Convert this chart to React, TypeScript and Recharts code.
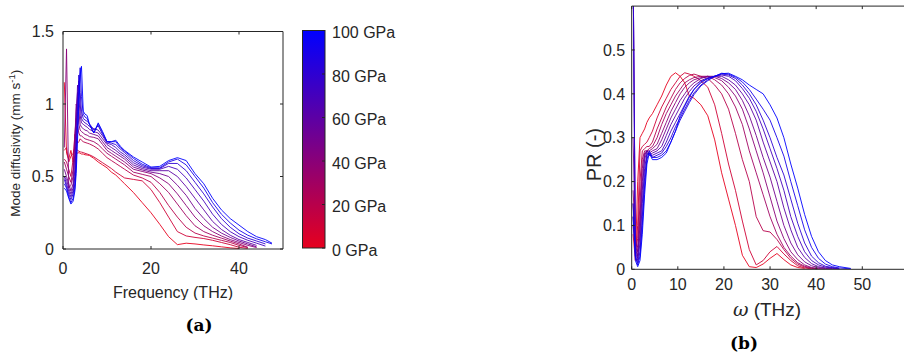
import React from 'react';
import { LineChart, Line, XAxis, YAxis } from 'recharts';

const PRESSURES = [0, 10, 20, 30, 40, 50, 60, 70, 80, 90, 100];
const COLORBAR_TICKS = [0, 20, 40, 60, 80, 100];

// (a) mode diffusivity in mm/s against frequency in THz
const FREQ_A = [
  0.3, 0.8, 1.3, 1.8, 2.3, 2.7, 3.0, 3.3, 3.6, 3.9, 4.2, 4.6, 5.0, 5.5, 6,
  7, 8, 9, 10, 11, 12, 13, 14,
  16, 18, 20, 22, 24, 26, 28, 30, 32, 34, 36, 38, 40, 42, 44, 46, 47.5,
];
const DIFF_00 = [
  1.15, 0.66, 0.62, 0.68, 0.6, 0.64, 0.67, 0.66, 0.665, 0.66, 0.655, 0.655, 0.65, 0.648, 0.645,
  0.625, 0.6, 0.58, 0.56, 0.53, 0.51, 0.48, 0.45,
  0.39, 0.32, 0.25, 0.17, 0.085, 0.03, 0.04, 0.035, 0.028, 0.022, 0.015, 0.008, 0.003, null, null, null, null,
];
const DIFF_10 = [
  0.68, 0.7, 0.6, 0.64, 0.66, 0.7, 0.69, 0.68, 0.675, 0.67, 0.668, 0.665, 0.66, 0.655, 0.65,
  0.635, 0.615, 0.595, 0.575, 0.555, 0.53, 0.51, 0.49,
  0.48, 0.47, 0.41, 0.32, 0.22, 0.12, 0.09, 0.08, 0.072, 0.06, 0.045, 0.03, 0.012, 0.004, null, null, null,
];
const DIFF_20 = [
  0.62, 0.6, 0.55, 0.5, 0.62, 0.79, 0.76, 0.73, 0.74, 0.76, 0.75, 0.74, 0.735, 0.73, 0.725,
  0.71, 0.69, 0.66, 0.63, 0.61, 0.59, 0.57, 0.55,
  0.51, 0.49, 0.46, 0.39, 0.3, 0.22, 0.15, 0.11, 0.09, 0.075, 0.06, 0.045, 0.025, 0.01, null, null, null,
];
const DIFF_30 = [
  0.6, 0.55, 0.5, 0.46, 0.55, 0.8, 0.9, 0.85, 0.8, 0.78, 0.78, 0.77, 0.76, 0.755, 0.75,
  0.74, 0.72, 0.69, 0.66, 0.64, 0.62, 0.6, 0.58,
  0.53, 0.515, 0.5, 0.45, 0.39, 0.31, 0.23, 0.16, 0.12, 0.095, 0.075, 0.055, 0.035, 0.012, null, null, null,
];
const DIFF_40 = [
  0.7, 1.38, 0.42, 0.44, 0.5, 0.75, 1.0, 0.95, 0.86, 0.82, 0.81, 0.8, 0.79, 0.785, 0.775,
  0.77, 0.76, 0.72, 0.68, 0.66, 0.64, 0.62, 0.6,
  0.55, 0.535, 0.52, 0.49, 0.45, 0.38, 0.3, 0.22, 0.16, 0.12, 0.09, 0.065, 0.045, 0.025, 0.01, null, null,
];
const DIFF_50 = [
  0.55, 0.5, 0.45, 0.4, 0.45, 0.65, 0.95, 1.08, 0.95, 0.86, 0.84, 0.83, 0.82, 0.815, 0.8,
  0.79, 0.78, 0.74, 0.7, 0.68, 0.66, 0.64, 0.62,
  0.565, 0.545, 0.53, 0.52, 0.5, 0.44, 0.37, 0.28, 0.21, 0.15, 0.11, 0.08, 0.055, 0.035, 0.015, null, null,
];
const DIFF_60 = [
  0.5, 0.48, 0.42, 0.38, 0.42, 0.55, 0.85, 1.13, 1.05, 0.92, 0.87, 0.86, 0.85, 0.84, 0.825,
  0.81, 0.8, 0.76, 0.72, 0.7, 0.68, 0.655, 0.635,
  0.58, 0.555, 0.54, 0.54, 0.54, 0.5, 0.43, 0.35, 0.27, 0.19, 0.135, 0.095, 0.065, 0.045, 0.025, null, null,
];
const DIFF_70 = [
  0.5, 0.45, 0.4, 0.36, 0.4, 0.5, 0.75, 1.05, 1.16, 1.0, 0.9, 0.88, 0.87, 0.86, 0.845,
  0.83, 0.82, 0.78, 0.73, 0.72, 0.7, 0.67, 0.65,
  0.595, 0.565, 0.55, 0.55, 0.57, 0.55, 0.49, 0.41, 0.33, 0.24, 0.17, 0.12, 0.085, 0.06, 0.04, 0.02, null,
];
const DIFF_80 = [
  0.48, 0.43, 0.38, 0.34, 0.38, 0.45, 0.65, 0.95, 1.2, 1.08, 0.95, 0.9, 0.89, 0.88, 0.865,
  0.82, 0.85, 0.79, 0.74, 0.73, 0.72, 0.69, 0.665,
  0.61, 0.575, 0.555, 0.555, 0.59, 0.59, 0.54, 0.46, 0.38, 0.29, 0.21, 0.15, 0.105, 0.075, 0.055, 0.035, null,
];
const DIFF_90 = [
  0.45, 0.42, 0.36, 0.32, 0.35, 0.42, 0.58, 0.85, 1.1, 1.25, 1.05, 0.93, 0.91, 0.9, 0.86,
  0.8, 0.86, 0.8, 0.74, 0.74, 0.74, 0.7, 0.675,
  0.625, 0.585, 0.56, 0.56, 0.6, 0.62, 0.58, 0.5, 0.42, 0.32, 0.24, 0.18, 0.13, 0.095, 0.07, 0.05, 0.035,
];
const DIFF_100 = [
  0.42, 0.4, 0.35, 0.31, 0.33, 0.4, 0.52, 0.75, 1.0, 1.2, 1.26, 0.95, 0.93, 0.92, 0.86,
  0.8, 0.87, 0.81, 0.74, 0.74, 0.75, 0.71, 0.68,
  0.635, 0.6, 0.565, 0.57, 0.61, 0.63, 0.61, 0.52, 0.45, 0.35, 0.27, 0.21, 0.165, 0.12, 0.085, 0.065, 0.04,
];

// (b) participation ratio against angular frequency in THz
const FREQ_B = [
  0.3, 0.8, 1.3, 1.8, 2.3, 2.8, 3.3, 3.8,
  4.5, 5.5, 6.5, 7.5, 8.5, 9.5, 10.5, 11.5, 12.5, 13.5,
  15, 16.5, 18, 19.5, 21, 22.5, 24, 25.5, 27, 28.5,
  30, 31.5, 33, 34.5, 36, 37.5, 39, 40.5, 42, 43.5,
  45, 47.5,
];
const PR_00 = [
  0.08, 0.02, 0.2, 0.3, 0.31, 0.32, 0.335, 0.345,
  0.355, 0.375, 0.395, 0.42, 0.44, 0.448, 0.44, 0.425, 0.395, 0.39,
  0.375, 0.35, 0.295, 0.22, 0.16, 0.1, 0.032, 0.006, 0.004, 0.012,
  0.025, 0.036, 0.022, 0.01, 0.004, 0.002, null, null, null, null,
  null, null,
];
const PR_10 = [
  0.1, 0.04, 0.1, 0.27, 0.28, 0.285, 0.29, 0.3,
  0.315, 0.345, 0.37, 0.39, 0.41, 0.425, 0.44, 0.448, 0.445, 0.44,
  0.43, 0.415, 0.375, 0.31, 0.24, 0.18, 0.11, 0.045, 0.01, 0.02,
  0.04, 0.052, 0.035, 0.02, 0.008, 0.003, 0.001, null, null, null,
  null, null,
];
const PR_20 = [
  0.12, 0.05, 0.07, 0.2, 0.27, 0.275, 0.28, 0.28,
  0.29, 0.32, 0.345, 0.37, 0.39, 0.41, 0.425, 0.435, 0.442, 0.445,
  0.44, 0.435, 0.42, 0.4, 0.365, 0.31, 0.25, 0.2, 0.12, 0.088,
  0.085, 0.068, 0.045, 0.025, 0.012, 0.005, 0.002, 0.001, null, null,
  null, null,
];
const PR_30 = [
  0.15, 0.06, 0.05, 0.15, 0.25, 0.27, 0.27, 0.275,
  0.28, 0.3, 0.33, 0.355, 0.375, 0.395, 0.41, 0.425, 0.432, 0.437,
  0.44, 0.44, 0.432, 0.42, 0.4, 0.37, 0.33, 0.27, 0.22, 0.17,
  0.12, 0.08, 0.05, 0.03, 0.015, 0.007, 0.003, 0.001, null, null,
  null, null,
];
const PR_40 = [
  0.18, 0.07, 0.04, 0.12, 0.23, 0.265, 0.27, 0.27,
  0.275, 0.285, 0.31, 0.335, 0.36, 0.38, 0.4, 0.415, 0.425, 0.432,
  0.437, 0.44, 0.437, 0.43, 0.415, 0.395, 0.365, 0.32, 0.27, 0.22,
  0.165, 0.11, 0.07, 0.04, 0.022, 0.01, 0.004, 0.002, 0.001, null,
  null, null,
];
const PR_50 = [
  0.3, 0.06, 0.03, 0.1, 0.2, 0.26, 0.27, 0.265,
  0.27, 0.275, 0.295, 0.32, 0.345, 0.365, 0.385, 0.4, 0.415, 0.425,
  0.435, 0.44, 0.44, 0.435, 0.425, 0.41, 0.385, 0.35, 0.305, 0.255,
  0.21, 0.155, 0.1, 0.06, 0.033, 0.017, 0.008, 0.004, 0.002, 0.001,
  null, null,
];
const PR_60 = [
  0.7, 0.05, 0.025, 0.08, 0.18, 0.25, 0.27, 0.26,
  0.265, 0.27, 0.28, 0.305, 0.33, 0.35, 0.37, 0.39, 0.405, 0.418,
  0.43, 0.437, 0.44, 0.44, 0.432, 0.42, 0.4, 0.375, 0.34, 0.29,
  0.245, 0.2, 0.14, 0.09, 0.05, 0.027, 0.013, 0.006, 0.003, 0.002,
  0.001, null,
];
const PR_70 = [
  0.7, 0.04, 0.02, 0.06, 0.15, 0.23, 0.265, 0.26,
  0.26, 0.265, 0.27, 0.29, 0.315, 0.335, 0.355, 0.375, 0.395, 0.41,
  0.425, 0.435, 0.44, 0.443, 0.44, 0.43, 0.412, 0.39, 0.36, 0.32,
  0.275, 0.23, 0.18, 0.12, 0.075, 0.04, 0.02, 0.01, 0.005, 0.003,
  0.001, null,
];
const PR_80 = [
  0.7, 0.03, 0.015, 0.04, 0.12, 0.21, 0.26, 0.265,
  0.255, 0.26, 0.265, 0.28, 0.3, 0.325, 0.345, 0.365, 0.385, 0.402,
  0.42, 0.432, 0.44, 0.445, 0.443, 0.435, 0.42, 0.4, 0.375, 0.34,
  0.3, 0.255, 0.215, 0.16, 0.105, 0.06, 0.03, 0.015, 0.007, 0.004,
  0.002, null,
];
const PR_90 = [
  0.15, 0.03, 0.01, 0.03, 0.1, 0.19, 0.25, 0.27,
  0.255, 0.255, 0.26, 0.27, 0.29, 0.315, 0.34, 0.36, 0.38, 0.398,
  0.418, 0.43, 0.44, 0.447, 0.445, 0.438, 0.427, 0.41, 0.388, 0.365,
  0.34, 0.3, 0.258, 0.2, 0.145, 0.09, 0.05, 0.025, 0.012, 0.006,
  0.003, 0.001,
];
const PR_100 = [
  0.12, 0.02, 0.006, 0.02, 0.08, 0.17, 0.24, 0.265,
  0.25, 0.25, 0.255, 0.265, 0.29, 0.315, 0.35, 0.372, 0.392, 0.41,
  0.428, 0.435, 0.44, 0.446, 0.447, 0.44, 0.432, 0.42, 0.41, 0.4,
  0.375, 0.345, 0.3, 0.24, 0.185, 0.125, 0.075, 0.04, 0.02, 0.01,
  0.006, 0.002,
];

const DIFF_SERIES = [DIFF_00, DIFF_10, DIFF_20, DIFF_30, DIFF_40, DIFF_50, DIFF_60, DIFF_70, DIFF_80, DIFF_90, DIFF_100];
const PR_SERIES = [PR_00, PR_10, PR_20, PR_30, PR_40, PR_50, PR_60, PR_70, PR_80, PR_90, PR_100];

const X_TICKS_A = [0, 20, 40];
const Y_TICKS_A = [0, 0.5, 1, 1.5];
const X_TICKS_B = [0, 10, 20, 30, 40, 50];
const Y_TICKS_B = [0, 0.1, 0.2, 0.3, 0.4, 0.5];

const INK = '#262626';
const SANS = '"Liberation Sans", Arial, Helvetica, sans-serif';
const SERIF = '"DejaVu Serif", "Liberation Serif", serif';

// red at 0 GPa fading to blue at 100 GPa
const RED = [230, 0, 30];
const BLUE = [0, 0, 255];
function pressureColor(p: number) {
  const t = p / 100;
  const c = RED.map((r, i) => Math.round(r + (BLUE[i] - r) * t));
  return `rgb(${c.join(',')})`;
}

function buildRows(freq: number[], series: (number | null)[][]) {
  return freq.map((f, i) => {
    const row: Record<string, number | null> = { f };
    series.forEach((s, k) => {
      row[`p${PRESSURES[k]}`] = s[i];
    });
    return row;
  });
}

const rowsA = buildRows(FREQ_A, DIFF_SERIES);
const rowsB = buildRows(FREQ_B, PR_SERIES);

const tickText = { fill: INK, fontSize: 16, fontFamily: SANS };
const blank = () => '';

function pressureLines() {
  return PRESSURES.map((p) => (
    <Line
      key={p}
      type="linear"
      dataKey={`p${p}`}
      stroke={pressureColor(p)}
      strokeWidth={0.9}
      dot={false}
      activeDot={false}
      isAnimationActive={false}
    />
  ));
}

function DiffusivityTitle({ viewBox }: any) {
  const x = viewBox.x + viewBox.width - 43;
  const y = viewBox.y + viewBox.height / 2 + 3;
  return (
    <text x={x} y={y} transform={`rotate(-90, ${x}, ${y})`} textAnchor="middle" fill={INK} fontSize={13.5} fontFamily={SANS}>
      Mode diffusivity (mm s<tspan dy={-5} fontSize={9.5}>-1</tspan>
      <tspan dy={5}>)</tspan>
    </text>
  );
}

function PrTitle({ viewBox }: any) {
  const x = viewBox.x + viewBox.width - 31;
  const y = viewBox.y + viewBox.height / 2 + 17;
  return (
    <text x={x} y={y} transform={`rotate(-90, ${x}, ${y})`} textAnchor="middle" fill={INK} fontSize={20} fontFamily={SANS}>
      PR (-)
    </text>
  );
}

function OmegaTitle({ viewBox }: any) {
  const x = viewBox.x + viewBox.width / 2 - 3;
  const y = viewBox.y + 47;
  return (
    <text x={x} y={y} textAnchor="middle" fill={INK} fontSize={19} fontFamily={SANS}>
      <tspan fontFamily={SERIF} fontStyle="italic">ω</tspan> (THz)
    </text>
  );
}

function Overlay() {
  const top = 30.5;
  const bottom = 248;
  const left = 302.5;
  const width = 22.5;
  const span = bottom - top;
  return (
    <svg width={904} height={357} style={{ position: 'absolute', left: 0, top: 0, pointerEvents: 'none' }}>
      <defs>
        <linearGradient id="pressureScale" x1="0" y1="1" x2="0" y2="0">
          <stop offset="0%" stopColor={pressureColor(0)} />
          <stop offset="100%" stopColor={pressureColor(100)} />
        </linearGradient>
      </defs>
      <rect x={left} y={top} width={width} height={span} fill="url(#pressureScale)" stroke={INK} strokeWidth={1} />
      {COLORBAR_TICKS.map((p) => {
        const y = bottom - (p / 100) * span;
        return (
          <g key={p}>
            <line x1={left + width - 3} x2={left + width} y1={y} y2={y} stroke={INK} strokeWidth={1} />
            <text x={332} y={y + 7.5} fill={INK} fontSize={16} fontFamily={SANS}>
              {`${p} GPa`}
            </text>
          </g>
        );
      })}
      <text x={199} y={331} textAnchor="middle" fill="#000" fontSize={17} fontWeight="bold" fontFamily={SERIF}>
        (a)
      </text>
      <text x={744} y={349} textAnchor="middle" fill="#000" fontSize={17} fontWeight="bold" fontFamily={SERIF}>
        (b)
      </text>
    </svg>
  );
}

export default function App() {
  return (
    <div
      style={{
        position: 'fixed',
        left: 0,
        top: 0,
        width: 904,
        height: 357,
        overflow: 'hidden',
        background: '#fff',
        fontFamily: SANS,
      }}
    >
      <div style={{ position: 'absolute', left: 0, top: 0 }}>
        <LineChart width={300} height={300} data={rowsA} margin={{ top: 30.5, right: 16, bottom: 50, left: 62 }}>
          <XAxis
            dataKey="f"
            type="number"
            domain={[0, 50]}
            ticks={X_TICKS_A}
            interval={0}
            height={1}
            tickSize={-3}
            tickMargin={17}
            stroke={INK}
            tick={tickText}
            allowDataOverflow
            label={{ value: 'Frequency (THz)', position: 'bottom', offset: 37, fill: INK, fontSize: 16, fontFamily: SANS }}
          />
          <XAxis xAxisId="top" orientation="top" dataKey="f" type="number" domain={[0, 50]} ticks={X_TICKS_A} interval={0} height={1} tickSize={-3} tickFormatter={blank} stroke={INK} allowDataOverflow />
          <YAxis
            type="number"
            domain={[0, 1.5]}
            ticks={Y_TICKS_A}
            interval={0}
            width={1}
            tickSize={-3}
            tickMargin={12}
            stroke={INK}
            tick={tickText}
            allowDataOverflow
            label={(props: any) => <DiffusivityTitle viewBox={props.viewBox} />}
          />
          <YAxis yAxisId="right" orientation="right" type="number" domain={[0, 1.5]} ticks={Y_TICKS_A} interval={0} width={1} tickSize={-3} tickFormatter={blank} stroke={INK} allowDataOverflow />
          {pressureLines()}
        </LineChart>
      </div>

      <div style={{ position: 'absolute', left: 560, top: 0 }}>
        <LineChart width={360} height={357} data={rowsB} margin={{ top: 5.1, right: 11.6, bottom: 86.7, left: 70.7 }}>
          <XAxis
            dataKey="f"
            type="number"
            domain={[0, 60]}
            ticks={X_TICKS_B}
            interval={0}
            height={1}
            tickSize={-3}
            tickMargin={12}
            stroke={INK}
            tick={tickText}
            allowDataOverflow
            label={(props: any) => <OmegaTitle viewBox={props.viewBox} />}
          />
          <XAxis xAxisId="top" orientation="top" dataKey="f" type="number" domain={[0, 60]} ticks={X_TICKS_B} interval={0} height={1} tickSize={-3} tickFormatter={blank} stroke={INK} allowDataOverflow />
          <YAxis
            type="number"
            domain={[0, 0.6]}
            ticks={Y_TICKS_B}
            interval={0}
            width={1}
            tickSize={-3}
            tickMargin={9.5}
            stroke={INK}
            tick={tickText}
            allowDataOverflow
            label={(props: any) => <PrTitle viewBox={props.viewBox} />}
          />
          {pressureLines()}
        </LineChart>
      </div>

      <Overlay />
    </div>
  );
}
